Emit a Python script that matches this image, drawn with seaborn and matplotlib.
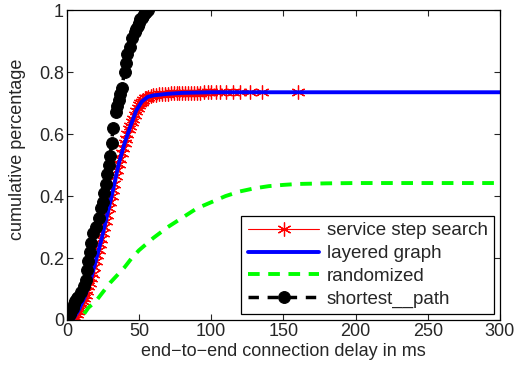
import matplotlib
matplotlib.use("Agg")
import matplotlib.pyplot as plt
import seaborn as sns

# service step search (red asterisks)
red_x = [5, 6, 7, 8, 9, 10, 11, 12, 13, 14, 15, 16, 17, 18, 19, 20, 21, 22, 23, 24, 25,
         26, 27, 28, 29, 30, 31, 32, 33, 34, 35, 36, 37, 38, 39, 40, 41, 42, 43, 44, 45,
         46, 47, 48, 49, 50, 51, 52, 53, 54, 55, 56, 58, 60, 62, 64, 66, 68, 70, 72, 74,
         76, 78, 80, 82, 84, 86, 88, 90, 92, 95, 98, 100, 103, 106, 110, 115, 120, 127, 135, 160]
red_y = [0.0, 0.01, 0.02, 0.03, 0.04, 0.05, 0.06, 0.07, 0.08, 0.095, 0.11, 0.12, 0.135, 0.15,
         0.17, 0.19, 0.21, 0.225, 0.245, 0.26, 0.28, 0.30, 0.32, 0.34, 0.36, 0.38, 0.40, 0.42,
         0.44, 0.465, 0.485, 0.505, 0.52, 0.54, 0.555, 0.57, 0.585, 0.60, 0.615, 0.625, 0.64,
         0.65, 0.66, 0.675, 0.685, 0.695, 0.70, 0.705, 0.71, 0.715, 0.718, 0.72, 0.723, 0.725,
         0.727, 0.728, 0.729, 0.73, 0.73, 0.731, 0.731, 0.732, 0.732, 0.733, 0.733, 0.733,
         0.734, 0.734, 0.734, 0.734, 0.735, 0.735, 0.735, 0.735, 0.735, 0.735, 0.735, 0.735,
         0.735, 0.735, 0.735]

# layered graph (blue)
blue_x = [4, 8, 12, 16, 20, 24, 28, 32, 36, 40, 44, 48, 52, 56, 60, 70, 80, 100, 160, 300]
blue_y = [0.0, 0.03, 0.07, 0.12, 0.19, 0.26, 0.34, 0.42, 0.505, 0.57, 0.625, 0.675, 0.705,
          0.72, 0.725, 0.73, 0.733, 0.735, 0.735, 0.735]

# randomized (green dashed)
green_x = [12, 15, 20, 25, 30, 35, 40, 45, 50, 55, 60, 70, 80, 90, 100, 110, 120, 130, 140,
           150, 160, 170, 180, 200, 220, 250, 300]
green_y = [0.02, 0.04, 0.06, 0.09, 0.12, 0.145, 0.17, 0.20, 0.225, 0.245, 0.265, 0.30, 0.33,
           0.36, 0.38, 0.40, 0.415, 0.425, 0.432, 0.436, 0.439, 0.44, 0.441, 0.442, 0.442,
           0.442, 0.442]

# shortest path (black dots)
black_x = [0, 1, 2, 3, 4, 5, 6, 7, 8, 10, 12, 13, 14, 15, 16, 17, 18, 20, 22, 24, 25, 26, 27,
           28, 29, 30, 31, 32, 34, 35, 36, 37, 38, 40, 41, 42, 44, 45, 47, 48, 49, 50, 51, 52,
           53, 54, 55, 56]
black_y = [0.0, 0.01, 0.02, 0.03, 0.04, 0.05, 0.06, 0.07, 0.075, 0.09, 0.11, 0.13, 0.16, 0.19,
           0.22, 0.25, 0.28, 0.30, 0.33, 0.36, 0.38, 0.41, 0.44, 0.47, 0.50, 0.53, 0.57, 0.62,
           0.67, 0.69, 0.71, 0.73, 0.75, 0.80, 0.83, 0.86, 0.88, 0.91, 0.93, 0.94, 0.95, 0.96,
           0.97, 0.975, 0.98, 0.99, 0.995, 1.0]

sns.set_style("ticks")
plt.rcParams['font.family'] = ['Liberation Sans', 'DejaVu Sans']
plt.rcParams['xtick.direction'] = 'in'
plt.rcParams['ytick.direction'] = 'in'

fig = plt.figure(figsize=(5.18, 3.76), dpi=100)
ax = fig.add_axes([0.129, 0.149, 0.836, 0.824])

asterisk = (6, 2, 0)
sns.lineplot(x=red_x, y=red_y, ax=ax, color='red', lw=0.8, marker=asterisk, markersize=10,
             markeredgecolor='red', markeredgewidth=0.9, sort=False, label='service step search')
sns.lineplot(x=blue_x, y=blue_y, ax=ax, color='blue', lw=2.8, sort=False, label='layered graph')
sns.lineplot(x=green_x, y=green_y, ax=ax, color='#00ff00', lw=2.8, linestyle=(0, (3, 2.2)),
             sort=False, label='randomized')
sns.lineplot(x=black_x, y=black_y, ax=ax, color='black', lw=2.5, linestyle=(0, (3, 2.5)),
             marker='o', markersize=8.5, markeredgecolor='black', sort=False, label='shortest__path')

ax.set_xlim(0, 300)
ax.set_ylim(0, 1)
ax.set_xticks([0, 50, 100, 150, 200, 250, 300])
ax.set_yticks([0, 0.2, 0.4, 0.6, 0.8, 1])
ax.set_yticklabels(['0', '0.2', '0.4', '0.6', '0.8', '1'])
ax.tick_params(axis='both', labelsize=13, length=4, width=0.8, top=True, right=True, pad=2)
for s in ax.spines.values():
    s.set_visible(True)
    s.set_linewidth(0.9)
    s.set_color('black')
ax.set_xlabel('end\u2212to\u2212end connection delay in ms', fontsize=13, labelpad=2)
ax.set_ylabel('cumulative percentage', fontsize=13, labelpad=3)
ax.yaxis.set_label_coords(-0.095, 0.55)

leg = ax.legend(loc='lower right', fontsize=13.5, fancybox=False, framealpha=1,
                edgecolor='black', borderaxespad=0.3, handlelength=3.8, labelspacing=0.3,
                borderpad=0.35, handletextpad=0.4)
leg.get_frame().set_linewidth(0.9)

fig.savefig('out.png', dpi=100)
